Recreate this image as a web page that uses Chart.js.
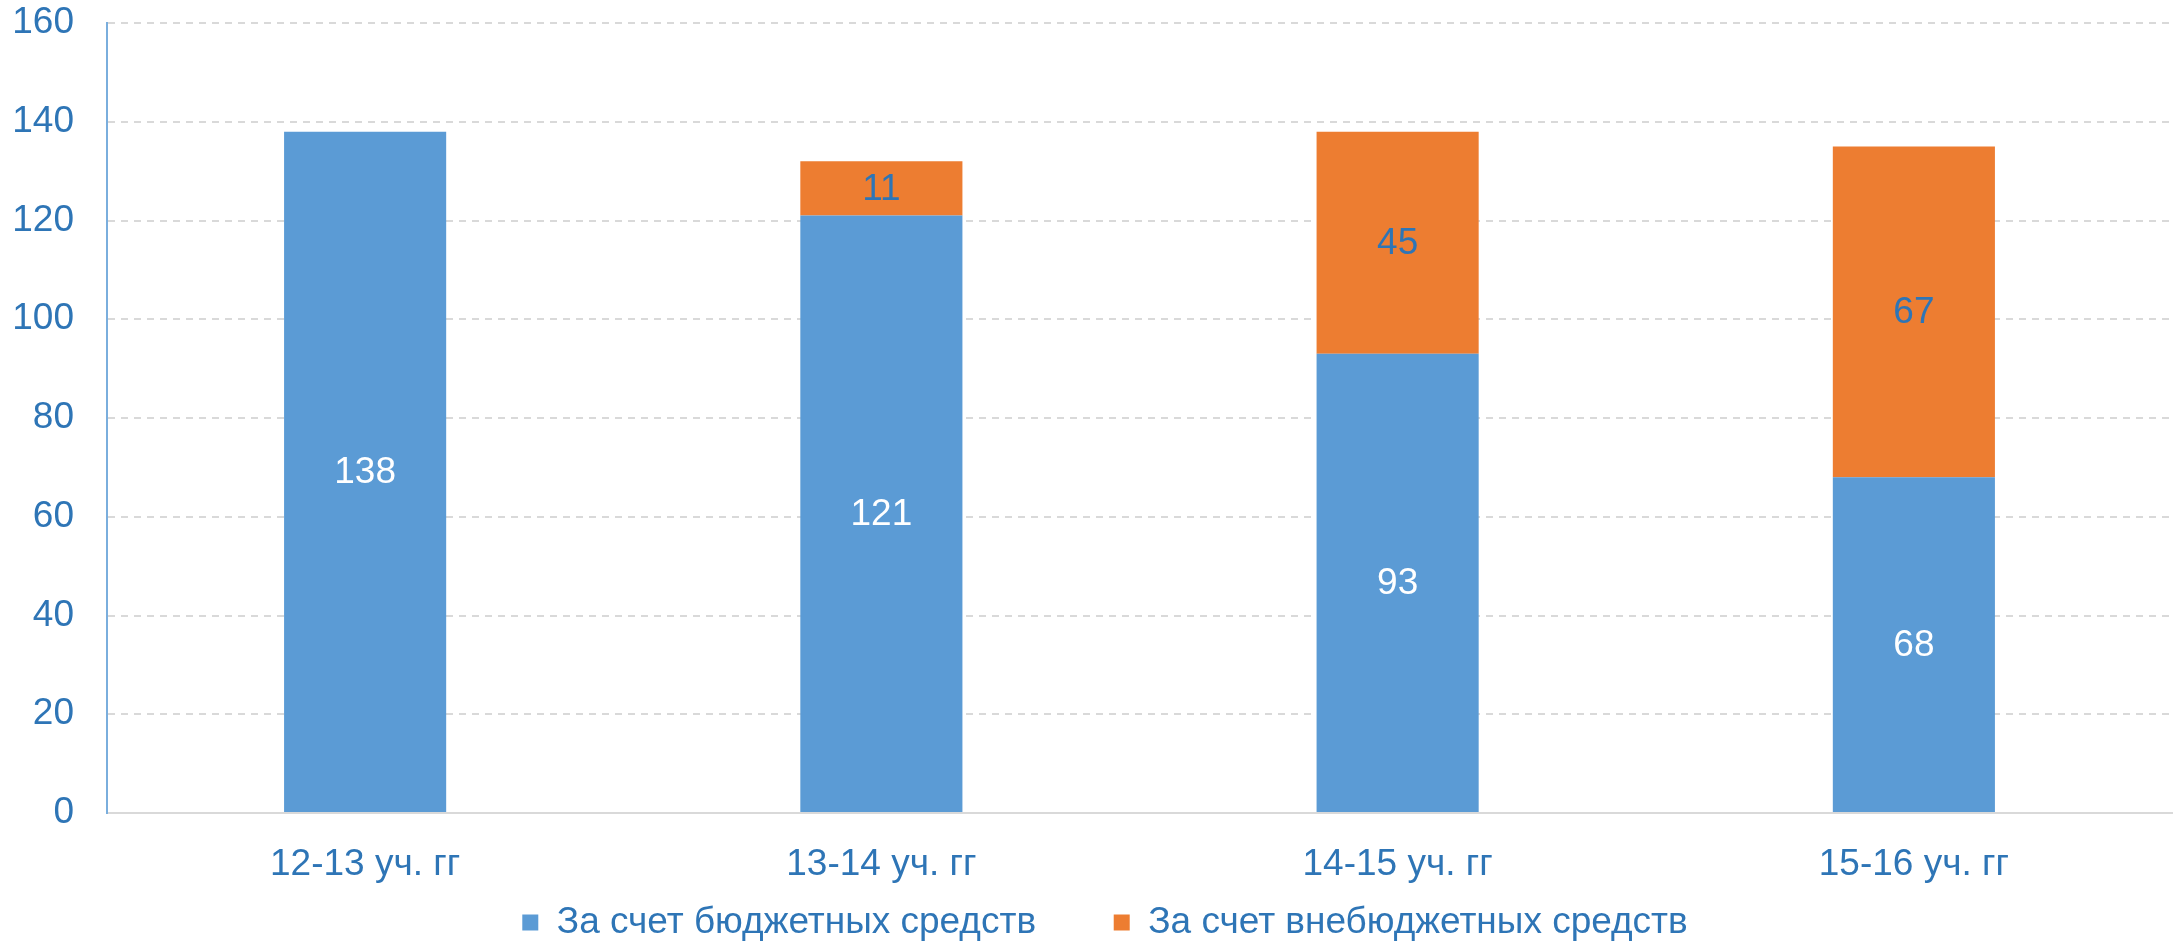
<!DOCTYPE html>
<html>
<head>
<meta charset="utf-8">
<script src="https://cdn.jsdelivr.net/npm/chart.js@4"></script>
<style>
  html, body { margin: 0; padding: 0; background: #fff; }
  #wrap { width: 2176px; height: 947px; position: relative; }
</style>
</head>
<body>
<div id="wrap"><canvas id="chart"></canvas></div>
<script>
const categories = ["12-13 уч. гг", "13-14 уч. гг", "14-15 уч. гг", "15-16 уч. гг"];
const budgetValues = [138, 121, 93, 68];
const extraBudgetValues = [null, 11, 45, 67];
const seriesNames = ["За счет бюджетных средств", "За счет внебюджетных средств"];
const yTicks = [0, 20, 40, 60, 80, 100, 120, 140, 160];

const textColor = "#2E75B6";
const fontFamily = "'Liberation Sans', Arial, sans-serif";

// values printed in the middle of each bar segment
const barLabels = {
  id: "barLabels",
  afterDatasetsDraw(chart) {
    const ctx = chart.ctx;
    ctx.save();
    ctx.font = `37px ${fontFamily}`;
    ctx.textAlign = "center";
    ctx.textBaseline = "middle";
    chart.data.datasets.forEach((ds, i) => {
      const meta = chart.getDatasetMeta(i);
      meta.data.forEach((bar, j) => {
        const v = ds.data[j];
        if (v === null || v === undefined) return;
        const p = bar.getProps(["x", "y", "base"], true);
        ctx.fillStyle = ds.labelColor;
        ctx.fillText(String(v), p.x, (p.y + p.base) / 2 + 1);
      });
    });
    ctx.restore();
  }
};

// legend in the original sits a bit right of the page centre
const shiftLegend = {
  id: "shiftLegend",
  afterLayout(chart) {
    if (chart.legend) chart.legend.left += 38;
  }
};

const ctx = document.getElementById("chart").getContext("2d");
new Chart(ctx, {
  type: "bar",
  data: {
    labels: categories,
    datasets: [
      {
        label: seriesNames[0],
        data: budgetValues,
        backgroundColor: "#5B9BD5",
        labelColor: "#ffffff",
        barPercentage: 0.314,
        categoryPercentage: 1
      },
      {
        label: seriesNames[1],
        data: extraBudgetValues,
        backgroundColor: "#ED7D31",
        labelColor: textColor,
        barPercentage: 0.314,
        categoryPercentage: 1
      }
    ]
  },
  options: {
    responsive: true,
    maintainAspectRatio: false,
    animation: false,
    layout: { padding: { left: 0, right: 4, top: 23, bottom: -4 } },
    plugins: {
      tooltip: { enabled: false },
      legend: {
        position: "bottom",
        labels: {
          boxWidth: 16,
          boxHeight: 16,
          padding: 16,
          color: textColor,
          font: { size: 37, family: fontFamily },
          generateLabels(chart) {
            const items = Chart.defaults.plugins.legend.labels.generateLabels(chart);
            // widen the gap between the two entries
            items.forEach((it, i) => {
              if (i < items.length - 1) it.text = it.text + "      ";
            });
            return items;
          }
        }
      }
    },
    scales: {
      x: {
        stacked: true,
        grid: { display: false, drawTicks: false },
        border: { display: true, color: "#D9D9D9", width: 2 },
        ticks: {
          color: textColor,
          padding: 30,
          maxRotation: 0,
          autoSkip: false,
          font: { size: 37, family: fontFamily }
        },
        afterFit(scale) {
          scale.height = 75;
          scale.paddingLeft = 0;
          scale.paddingRight = 0;
        }
      },
      y: {
        stacked: true,
        min: 0,
        max: 160,
        afterBuildTicks(scale) { scale.ticks = yTicks.map(v => ({ value: v })); },
        grid: {
          drawTicks: false,
          color: c => (c.tick && c.tick.value === 0 ? "rgba(0,0,0,0)" : "#D9D9D9"),
          lineWidth: 2
        },
        border: { display: true, color: "#7AAEDD", width: 2, dash: [7, 6] },
        ticks: {
          color: textColor,
          padding: 33,
          font: { size: 37, family: fontFamily }
        },
        afterFit(scale) {
          scale.width = 107;
          scale.paddingTop = 0;
          scale.paddingBottom = 0;
        }
      }
    }
  },
  plugins: [barLabels, shiftLegend]
});
</script>
</body>
</html>
